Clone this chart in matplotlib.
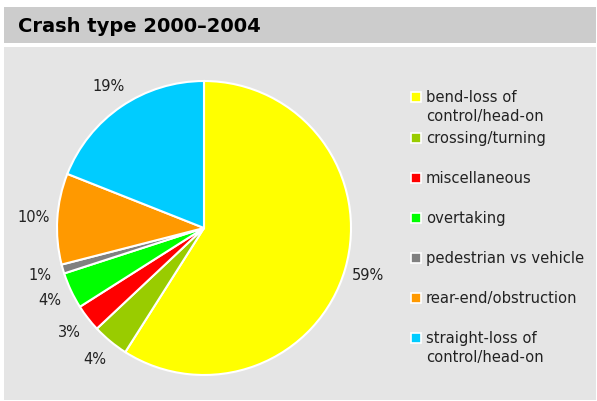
import matplotlib
matplotlib.use("Agg")
import matplotlib.pyplot as plt
from matplotlib.patches import Rectangle

# crash type shares, 2000-2004 (percent)
categories = [
    "bend-loss of\ncontrol/head-on",
    "crossing/turning",
    "miscellaneous",
    "overtaking",
    "pedestrian vs vehicle",
    "rear-end/obstruction",
    "straight-loss of\ncontrol/head-on",
]
shares = [59, 4, 3, 4, 1, 10, 19]
colours = ["#ffff00", "#99cc00", "#ff0000", "#00ff00", "#808080", "#ff9900", "#00ccff"]

W, H = 597, 401
fig = plt.figure(figsize=(W / 100, H / 100), dpi=100)
fig.patch.set_facecolor("white")

def px_rect(x0, y0, x1, y1, colour):
    # rectangle given in pixel coords measured from the top-left corner
    fig.patches.append(Rectangle((x0 / W, 1 - y1 / H), (x1 - x0) / W, (y1 - y0) / H,
                                 transform=fig.transFigure, facecolor=colour,
                                 edgecolor="none", zorder=-5))

px_rect(4, 7, 596, 43, "#cccccc")
px_rect(4, 47, 596, 400, "#e5e5e5")

fig.text(18 / W, 1 - 26 / H, "Crash type 2000\u20132004", fontsize=14, fontweight="bold",
         color="black", va="center", ha="left")

# pie: centre (204, 228) px, radius 147 px
cx, cy, r = 204, 228, 147
ax = fig.add_axes([(cx - r) / W, (H - cy - r) / H, 2 * r / W, 2 * r / H])
ax.set_zorder(1)
ax.patch.set_visible(False)
wedges, _, pcts = ax.pie(shares, colors=colours, startangle=90, counterclock=False,
                         autopct=lambda p: f"{p:.0f}%", pctdistance=1.16,
                         wedgeprops=dict(edgecolor="white", linewidth=1.5),
                         textprops=dict(fontsize=10.5, color="#222222"))
for t in pcts:
    t.set_clip_on(False)
ax.set_xlim(-1, 1)
ax.set_ylim(-1, 1)
ax.set_aspect("equal")
ax.set_axis_off()

# legend drawn by hand so two-line labels line up with their swatch
legend_y = [97, 138, 178, 218, 258, 298, 338]
for name, col, y in zip(categories, colours, legend_y):
    fig.patches.append(Rectangle((411 / W, 1 - (y + 5) / H), 10 / W, 10 / H,
                                 transform=fig.transFigure, facecolor=col,
                                 edgecolor="white", linewidth=1.2, zorder=3))
    fig.text(426 / W, 1 - (y - 7) / H, name, fontsize=10.6, color="#222222",
             va="top", ha="left", linespacing=1.35)

fig.savefig("out.png", dpi=100, facecolor=fig.get_facecolor())
